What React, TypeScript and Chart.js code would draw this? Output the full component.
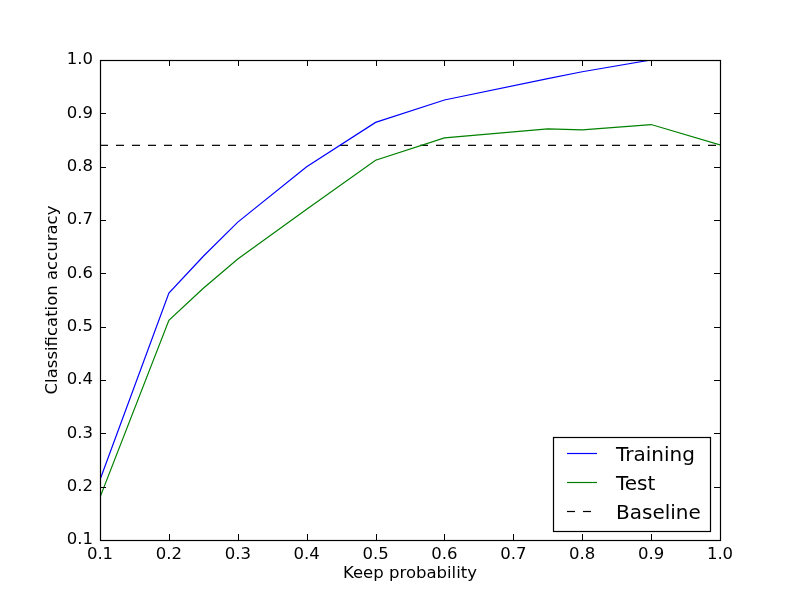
import React, { useEffect, useRef } from "react";
import { Chart, registerables } from "chart.js";

Chart.register(...registerables);

const keepProb = [0.1, 0.2, 0.25, 0.3, 0.4, 0.5, 0.6, 0.75, 0.8, 0.9, 1.0];
const trainingAcc = [0.213, 0.563, 0.632, 0.696, 0.8, 0.883, 0.925, 0.965, 0.978, 1.0, 1.0];
const testAcc = [0.18, 0.512, 0.572, 0.627, 0.72, 0.812, 0.854, 0.871, 0.869, 0.879, 0.841];
const baselineAcc = 0.84;
const seriesNames = ["Training", "Test", "Baseline"];
const xTitle = "Keep probability";
const yTitle = "Classification accuracy";

const FONT = "'DejaVu Sans', sans-serif";

const framePlugin = {
  id: "frame",
  afterDatasetsDraw(chart: any) {
    const { ctx, chartArea } = chart;
    const { left, right, top, bottom } = chartArea;
    const xs = chart.scales.x;
    const ys = chart.scales.y;
    ctx.save();
    ctx.strokeStyle = "#000";
    ctx.lineWidth = 1;
    const tl = 6;
    ctx.beginPath();
    xs.ticks.forEach((t: any) => {
      const px = Math.round(xs.getPixelForValue(t.value)) + 0.5;
      ctx.moveTo(px, bottom);
      ctx.lineTo(px, bottom - tl);
      ctx.moveTo(px, top);
      ctx.lineTo(px, top + tl);
    });
    ys.ticks.forEach((t: any) => {
      const py = Math.round(ys.getPixelForValue(t.value)) + 0.5;
      ctx.moveTo(left, py);
      ctx.lineTo(left + tl, py);
      ctx.moveTo(right, py);
      ctx.lineTo(right - tl, py);
    });
    ctx.stroke();
    ctx.lineWidth = 1.2;
    const l = Math.round(left) + 0.5;
    const r = Math.round(right) + 0.5;
    const t = Math.round(top) + 0.5;
    const b = Math.round(bottom) + 0.5;
    ctx.strokeRect(l, t, r - l, b - t);

    // legend
    const lx = 553, ly = 437, lw = 157, lh = 94;
    ctx.fillStyle = "#fff";
    ctx.fillRect(lx, ly, lw, lh);
    ctx.lineWidth = 1.2;
    ctx.strokeStyle = "#000";
    ctx.strokeRect(lx + 0.5, ly + 0.5, lw, lh);
    chart.data.datasets.forEach((ds: any, i: number) => {
      const ry = 453 + i * 29;
      ctx.save();
      ctx.strokeStyle = ds.borderColor;
      ctx.lineWidth = 1.2;
      ctx.setLineDash(ds.borderDash || []);
      ctx.beginPath();
      ctx.moveTo(567, ry + 0.5);
      ctx.lineTo(597, ry + 0.5);
      ctx.stroke();
      ctx.restore();
      ctx.fillStyle = "#000";
      ctx.font = `20px ${FONT}`;
      ctx.textAlign = "left";
      ctx.textBaseline = "alphabetic";
      ctx.fillText(ds.label, 616, ry + 7.5);
    });

    // axis titles
    ctx.fillStyle = "#000";
    ctx.font = `16.5px ${FONT}`;
    ctx.textAlign = "center";
    ctx.textBaseline = "alphabetic";
    ctx.fillText(xTitle, (left + right) / 2, 578);
    ctx.save();
    ctx.translate(57, (top + bottom) / 2);
    ctx.rotate(-Math.PI / 2);
    ctx.fillText(yTitle, 0, 0);
    ctx.restore();
    ctx.restore();
  },
};

export default function App() {
  const ref = useRef<HTMLCanvasElement>(null);
  useEffect(() => {
    if (!ref.current) return;
    const chart = new Chart(ref.current, {
      type: "line",
      data: {
        datasets: [
          {
            label: seriesNames[0],
            data: keepProb.map((x, i) => ({ x, y: trainingAcc[i] })),
            borderColor: "#0000ff",
            borderWidth: 1.2,
            pointRadius: 0,
            fill: false,
            tension: 0,
            clip: 0,
          },
          {
            label: seriesNames[1],
            data: keepProb.map((x, i) => ({ x, y: testAcc[i] })),
            borderColor: "#008000",
            borderWidth: 1.2,
            pointRadius: 0,
            fill: false,
            tension: 0,
            clip: 0,
          },
          {
            label: seriesNames[2],
            data: [
              { x: keepProb[0], y: baselineAcc },
              { x: keepProb[keepProb.length - 1], y: baselineAcc },
            ],
            borderColor: "#000000",
            borderWidth: 1.2,
            borderDash: [8, 8],
            pointRadius: 0,
            fill: false,
            tension: 0,
            clip: 0,
          },
        ],
      },
      options: {
        animation: false,
        responsive: false,
        devicePixelRatio: 1,
        layout: { padding: { top: 60, right: 80, left: 0, bottom: 0 } },
        plugins: { legend: { display: false }, tooltip: { enabled: false } },
        scales: {
          x: {
            type: "linear",
            min: 0.1,
            max: 1.0,
            grid: { display: false, drawTicks: false },
            border: { display: false },
            ticks: {
              stepSize: 0.1,
              padding: 5,
              color: "#000",
              font: { family: FONT, size: 16.5 },
              maxRotation: 0,
              autoSkip: false,
              callback: (v: any) => Number(v).toFixed(1),
            },
            afterFit: (s: any) => {
              s.height = 60;
            },
          },
          y: {
            type: "linear",
            min: 0.1,
            max: 1.0,
            grid: { display: false, drawTicks: false },
            border: { display: false },
            ticks: {
              stepSize: 0.1,
              padding: 7,
              color: "#000",
              font: { family: FONT, size: 16.5 },
              autoSkip: false,
              callback: (v: any) => Number(v).toFixed(1),
            },
            afterFit: (s: any) => {
              s.width = 100;
            },
          },
        },
      },
      plugins: [framePlugin],
    });
    return () => chart.destroy();
  }, []);
  return (
    <div style={{ position: "absolute", left: 0, top: 0, width: 800, height: 600, background: "#fff" }}>
      <canvas ref={ref} width={800} height={600} />
    </div>
  );
}
